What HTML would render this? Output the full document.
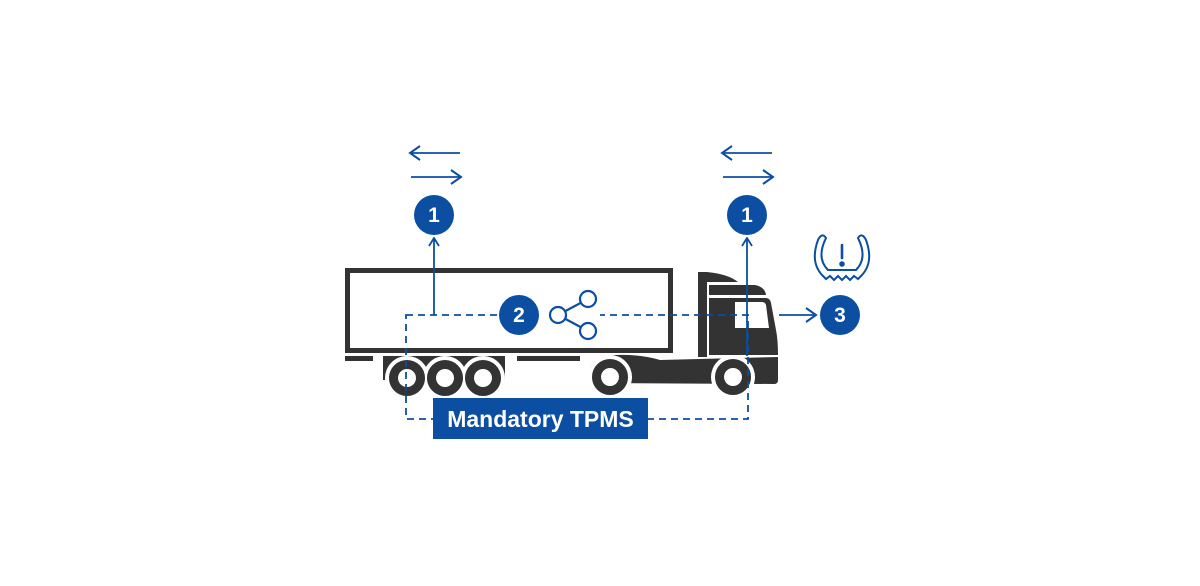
<!DOCTYPE html>
<html><head><meta charset="utf-8"><style>
html,body{margin:0;padding:0;background:#fff;}
svg{display:block;}
</style></head><body>
<svg width="1200" height="586" viewBox="0 0 1200 586" xmlns="http://www.w3.org/2000/svg">
<defs>
<marker id="ah" viewBox="0 0 14 18" refX="12" refY="9" markerWidth="14" markerHeight="18" markerUnits="userSpaceOnUse" orient="auto">
<path d="M2,2 L12,9 L2,16" fill="none" stroke="#0b4ea2" stroke-width="2"/>
</marker>
<marker id="ahs" viewBox="0 0 10 12" refX="9" refY="6" markerWidth="10" markerHeight="12" markerUnits="userSpaceOnUse" orient="auto">
<path d="M1,1 L9,6 L1,11" fill="none" stroke="#0b4ea2" stroke-width="1.8"/>
</marker>
</defs>
<g fill="#333">
<rect x="347.5" y="270.5" width="323" height="80" fill="none" stroke="#333" stroke-width="5"/>
<rect x="345" y="356" width="28" height="5"/>
<rect x="517" y="356" width="63" height="5"/>
<rect x="383" y="356" width="122" height="24"/>
<path d="M698,272 L707,272 Q728,274 738,282 L707,282 L707,357 L698,357 Z"/>
<path d="M709,285 L755,285 Q765,287 766,295 L709,295 Z"/>
<path d="M709,298 L766,298 Q770,298 771,303 L776,330 Q778,340 778,355 L709,355 Z"/>
<path d="M590,383 L590,368 Q595,356 615,355 Q640,354 660,360 L778,357 L778,380 Q778,384 774,384 Z"/>
</g>
<g>
<circle cx="407" cy="378" r="22" fill="#fff"/>
<circle cx="445" cy="378" r="22" fill="#fff"/>
<circle cx="483" cy="378" r="22" fill="#fff"/>
<circle cx="610" cy="377" r="22" fill="#fff"/>
<circle cx="733" cy="377" r="22" fill="#fff"/>
<g fill="#fff" stroke="#333" stroke-width="9">
<circle cx="407" cy="378" r="13.5"/>
<circle cx="445" cy="378" r="13.5"/>
<circle cx="483" cy="378" r="13.5"/>
<circle cx="610" cy="377" r="13.5"/>
<circle cx="733" cy="377" r="13.5"/>
</g>
</g>
<path d="M735,302 L762,302 Q765,302 766,305 L769,328 L735,328 Z" fill="#fff"/>
<g stroke="#0b4ea2" fill="none" stroke-width="1.8">
<rect x="406" y="315" width="342" height="104" stroke-dasharray="7,5"/>
<line x1="434" y1="315" x2="434" y2="238" marker-end="url(#ahs)"/>
<line x1="747" y1="356" x2="747" y2="238" marker-end="url(#ahs)"/>
<line x1="779" y1="315" x2="816" y2="315" marker-end="url(#ah)"/>
<line x1="460" y1="153" x2="410" y2="153" marker-end="url(#ah)"/>
<line x1="411" y1="177" x2="461" y2="177" marker-end="url(#ah)"/>
<line x1="772" y1="153" x2="722" y2="153" marker-end="url(#ah)"/>
<line x1="723" y1="177" x2="773" y2="177" marker-end="url(#ah)"/>
</g>
<rect x="497" y="305" width="103" height="20" fill="#fff"/>
<g fill="#0b4ea2">
<circle cx="434" cy="215" r="20"/>
<circle cx="747" cy="215" r="20"/>
<circle cx="519" cy="315" r="20"/>
<circle cx="840" cy="315" r="20"/>
</g>
<g fill="#fff" font-family="Liberation Sans, sans-serif" font-weight="bold" font-size="21" text-anchor="middle">
<text x="434" y="222">1</text>
<text x="747" y="222">1</text>
<text x="519" y="322">2</text>
<text x="840" y="322">3</text>
</g>
<g stroke="#0b4ea2" stroke-width="2.2" fill="#fff">
<line x1="558" y1="315" x2="588" y2="299"/>
<line x1="558" y1="315" x2="588" y2="331"/>
<circle cx="558" cy="315" r="8"/>
<circle cx="588" cy="299" r="8"/>
<circle cx="588" cy="331" r="8"/>
</g>
<g stroke="#0b4ea2" stroke-width="2" fill="none" stroke-linecap="round">
<path d="M826,238 Q822,232 818,240 Q810,262 822,275 L826,279 L830,276 L834,280 L838,276 L842,280 L846,276 L850,280 L854,276 L858,279 L862,275 Q874,262 866,240 Q862,232 858,238 Q868,258 856,270 L828,270 Q816,258 826,238 Z"/>
<line x1="842" y1="245" x2="842" y2="258" stroke-width="2.6"/>
<circle cx="842" cy="264" r="1.8" fill="#0b4ea2"/>
</g>
<rect x="433" y="398" width="215" height="41" fill="#0b4ea2"/>
<text x="540.5" y="427" fill="#fff" font-family="Liberation Sans, sans-serif" font-weight="bold" font-size="23" text-anchor="middle">Mandatory TPMS</text>
</svg>
</body></html>
